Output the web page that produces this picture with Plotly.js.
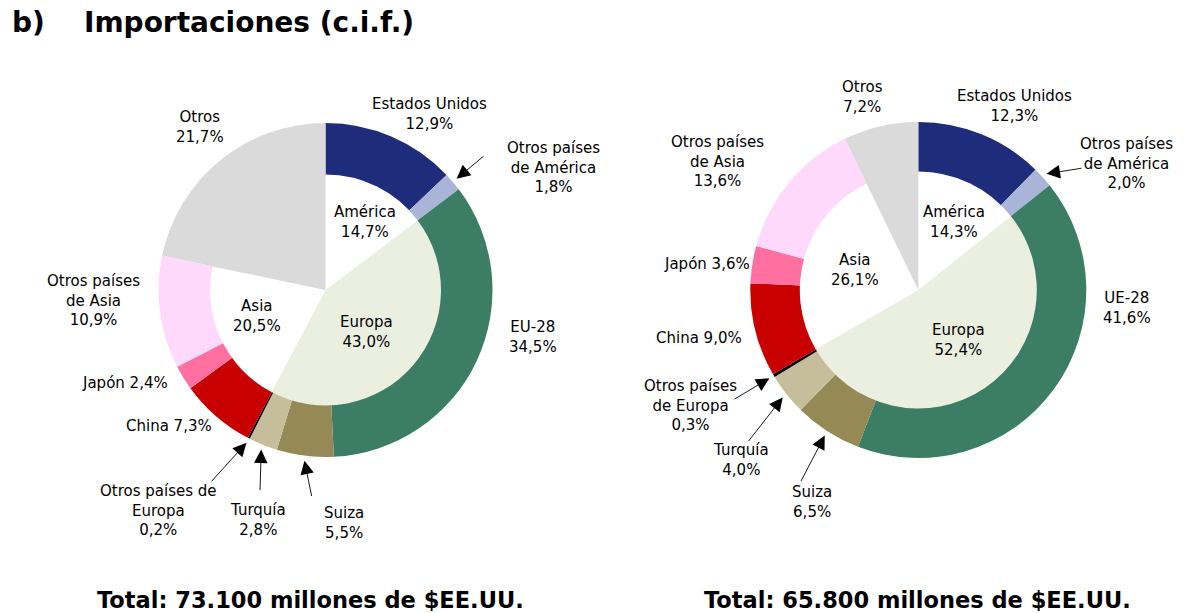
<!DOCTYPE html>
<html lang="es">
<head>
<meta charset="UTF-8">
<title>Importaciones (c.i.f.)</title>
<script src="https://cdn.plot.ly/plotly-3.0.1.min.js"></script>
<style>
  html, body { margin: 0; padding: 0; background: #fff; }
  #chart { width: 1189px; height: 613px; }
</style>
</head>
<body>
<div id="chart"></div>
<script>
// --- data ---
const countryNames = ['Estados Unidos', 'Otros países de América', 'EU-28', 'Suiza', 'Turquía',
                      'Otros países de Europa', 'China', 'Japón', 'Otros países de Asia', 'Otros'];
const countryColors = ['#1f2b7b', '#a9b4d8', '#3b7d65', '#958a55', '#c6bd9a',
                       '#000000', '#c80000', '#ff6fa0', '#ffd9fc', '#dadada'];
const leftCountries  = [12.9, 1.8, 34.5, 5.5, 2.8, 0.2, 7.3, 2.4, 10.9, 21.7];
const rightCountries = [12.3, 2.0, 41.6, 6.5, 4.0, 0.3, 9.0, 3.6, 13.6, 7.2];

const regionNames  = ['América', 'Europa', 'Asia', 'Otros'];
const regionColors = ['#ffffff', '#eaefdf', '#ffffff', '#dadada'];
const leftRegions  = [14.7, 43.0, 20.5, 21.7];
const rightRegions = [14.3, 52.4, 26.1, 7.2];

const leftTotal  = '73.100';
const rightTotal = '65.800';

// label text per slice ({v} = value)
const leftCountryText = ['Estados Unidos<br>{v}', 'Otros países<br>de América<br>{v}', 'EU-28<br>{v}',
  'Suiza<br>{v}', 'Turquía<br>{v}', 'Otros países de<br>Europa<br>{v}', 'China {v}', 'Japón {v}',
  'Otros países<br>de Asia<br>{v}', 'Otros<br>{v}'];
const rightCountryText = ['Estados Unidos<br>{v}', 'Otros países<br>de América<br>{v}', 'UE-28<br>{v}',
  'Suiza<br>{v}', 'Turquía<br>{v}', 'Otros países<br>de Europa<br>{v}', 'China {v}', 'Japón {v}',
  'Otros países<br>de Asia<br>{v}', 'Otros<br>{v}'];

// --- layout (pixels) ---
const W = 1189, H = 613;
const charts = [
  { cx: 325.5, cy: 290, R: 167, r: 114, countries: leftCountries, regions: leftRegions,
    text: leftCountryText, total: leftTotal, totalX: 310,
    labelPos: [[429,114],[553,167],[533,337],[344,523],[258,520],[159,510],[169,426],[125,383],[93,300],[200,127]],
    regionPos: [[365,222],[366,332],[257,316]],
    arrows: { 1: [485,155], 3: [312,498], 4: [260,492], 5: [210,483] } },
  { cx: 918.3, cy: 290, R: 168, r: 117, countries: rightCountries, regions: rightRegions,
    text: rightCountryText, total: rightTotal, totalX: 917,
    labelPos: [[1014,106],[1126,163],[1127,308],[812,502],[741,460],[690,405],[699,338],[707,264],[717,161],[862,97]],
    regionPos: [[954,222],[958,340],[855,270]],
    arrows: { 1: [1083,168], 3: [800,483], 4: [747,443], 5: [733,400] } }
];

const fmt = v => v.toFixed(1).replace('.', ',') + '%';
const px = x => x / W;
const py = y => 1 - y / H;
function dom(cx, cy, r) {
  return { x: [(cx - r) / W, (cx + r) / W], y: [1 - (cy + r) / H, 1 - (cy - r) / H] };
}
// point on the mid-angle of slice i, at radius rr
function midPoint(vals, i, c, rr) {
  const tot = vals.reduce((a, b) => a + b, 0);
  let before = 0;
  for (let k = 0; k < i; k++) before += vals[k];
  const a = (before + vals[i] / 2) / tot * 2 * Math.PI;
  return [c.cx + rr * Math.sin(a), c.cy - rr * Math.cos(a)];
}

const labelFont = { family: 'DejaVu Sans, Verdana, sans-serif', size: 15, color: '#000' };
const data = [];
const annotations = [];

charts.forEach(c => {
  data.push({
    type: 'pie', values: c.countries, labels: countryNames,
    marker: { colors: countryColors, line: { width: 0 } },
    hole: c.r / c.R, sort: false, direction: 'clockwise', rotation: 0,
    textinfo: 'none', hoverinfo: 'label+value', showlegend: false,
    domain: dom(c.cx, c.cy, c.R)
  });
  // inner pie slightly overlaps the ring hole so no seam shows
  data.push({
    type: 'pie', values: c.regions, labels: regionNames,
    marker: { colors: regionColors, line: { width: 0 } },
    sort: false, direction: 'clockwise', rotation: 0,
    textinfo: 'none', hoverinfo: 'label+value', showlegend: false,
    domain: dom(c.cx, c.cy, c.r + 1.5)
  });

  c.countries.forEach((v, i) => {
    const p = c.labelPos[i];
    annotations.push({ x: px(p[0]), y: py(p[1]), xref: 'paper', yref: 'paper',
      text: c.text[i].replace('{v}', fmt(v)), showarrow: false,
      xanchor: 'center', yanchor: 'middle', align: 'center', font: labelFont });
  });
  c.regionPos.forEach((p, i) => {
    annotations.push({ x: px(p[0]), y: py(p[1]), xref: 'paper', yref: 'paper',
      text: regionNames[i] + '<br>' + fmt(c.regions[i]), showarrow: false,
      xanchor: 'center', yanchor: 'middle', align: 'center', font: labelFont });
  });
  Object.keys(c.arrows).forEach(k => {
    const head = midPoint(c.countries, +k, c, c.R + 5);
    const tail = c.arrows[k];
    annotations.push({ x: px(head[0]), y: py(head[1]), xref: 'paper', yref: 'paper',
      text: ' ', font: { size: 1 }, showarrow: true, arrowhead: 2, arrowsize: 3,
      arrowwidth: 0.9, arrowcolor: '#000', standoff: 0,
      ax: tail[0] - head[0], ay: tail[1] - head[1] });
  });
  annotations.push({ x: px(c.totalX), y: py(600), xref: 'paper', yref: 'paper',
    text: '<b>Total: ' + c.total + ' millones de $EE.UU.</b>', showarrow: false,
    xanchor: 'center', yanchor: 'middle',
    font: { family: 'DejaVu Sans, Verdana, sans-serif', size: 22.5, color: '#000' } });
});

// title
annotations.push({ x: px(10), y: py(22), xref: 'paper', yref: 'paper', text: '<b>b)</b>',
  showarrow: false, xanchor: 'left', yanchor: 'middle',
  font: { family: 'DejaVu Sans, Verdana, sans-serif', size: 28, color: '#000' } });
annotations.push({ x: px(82), y: py(22), xref: 'paper', yref: 'paper',
  text: '<b>Importaciones (c.i.f.)</b>',
  showarrow: false, xanchor: 'left', yanchor: 'middle',
  font: { family: 'DejaVu Sans, Verdana, sans-serif', size: 28, color: '#000' } });

const layout = {
  width: W, height: H,
  margin: { l: 0, r: 0, t: 0, b: 0 },
  paper_bgcolor: '#fff', plot_bgcolor: '#fff',
  showlegend: false,
  annotations: annotations
};

Plotly.newPlot('chart', data, layout, { displayModeBar: false, staticPlot: true });
</script>
</body>
</html>
